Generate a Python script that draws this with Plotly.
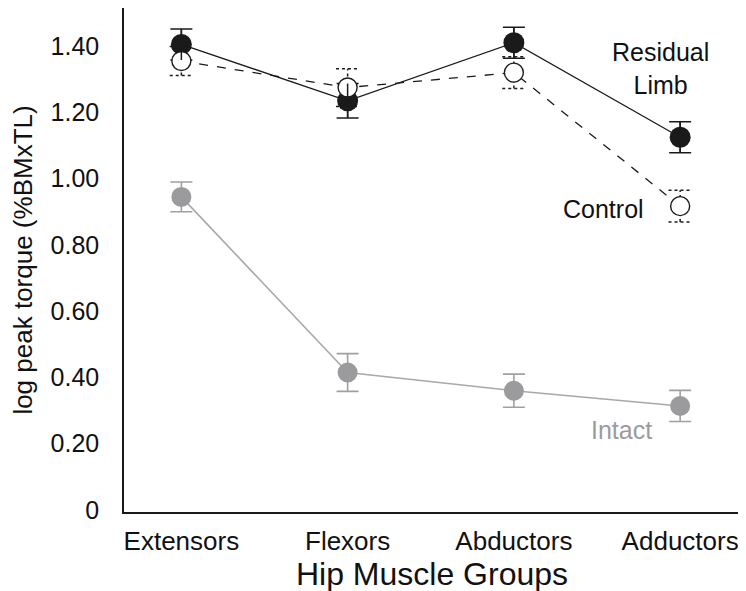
import plotly.graph_objects as go

categories = ["Extensors", "Flexors", "Abductors", "Adductors"]
residual = [1.405, 1.235, 1.41, 1.125]
residual_err = [0.047, 0.052, 0.047, 0.047]
control = [1.355, 1.275, 1.32, 0.917]
control_err = [0.044, 0.057, 0.048, 0.048]
intact = [0.945, 0.415, 0.36, 0.314]
intact_err = [0.045, 0.057, 0.05, 0.047]
ytick_vals = [0, 0.2, 0.4, 0.6, 0.8, 1.0, 1.2, 1.4]
ytick_text = ["0", "0.20", "0.40", "0.60", "0.80", "1.00", "1.20", "1.40"]

xs = list(range(len(categories)))
FONT = "Liberation Sans, Arial, Helvetica, sans-serif"
GRAY = "#9b9b9d"
BLACK = "#1a1a1a"
cap = 0.07  # half cap width in category units

fig = go.Figure()

# Intact
fig.add_trace(go.Scatter(
    x=xs, y=intact, mode="lines+markers",
    line=dict(color="#a8a8aa", width=1.6),
    marker=dict(size=20, color=GRAY, line=dict(width=0)),
    error_y=dict(type="data", array=intact_err, color="#a0a0a2", thickness=1.6, width=11),
    showlegend=False, hoverinfo="skip"))

# Residual limb
fig.add_trace(go.Scatter(
    x=xs, y=residual, mode="lines+markers",
    line=dict(color=BLACK, width=1.3),
    marker=dict(size=21, color=BLACK, line=dict(width=0)),
    error_y=dict(type="data", array=residual_err, color=BLACK, thickness=1.5, width=11),
    showlegend=False, hoverinfo="skip"))

# Control error bars (dotted), beneath control markers
ex, ey = [], []
for x, v, e in zip(xs, control, control_err):
    ex += [x - cap, x + cap, None, x - cap, x + cap, None, x, x, None]
    ey += [v + e, v + e, None, v - e, v - e, None, v - e, v + e, None]
fig.add_trace(go.Scatter(
    x=ex, y=ey, mode="lines",
    line=dict(color=BLACK, width=1.5, dash="dot"),
    showlegend=False, hoverinfo="skip"))

# Control line + markers
fig.add_trace(go.Scatter(
    x=xs, y=control, mode="lines+markers",
    line=dict(color=BLACK, width=1.3, dash="dash"),
    marker=dict(size=19, color="white", line=dict(width=1.4, color=BLACK)),
    showlegend=False, hoverinfo="skip"))

# Residual error bar stems on top
rx, ry = [], []
for x, v, e in zip(xs, residual, residual_err):
    rx += [x, x, None]
    ry += [v - e, v + e, None]
fig.add_trace(go.Scatter(
    x=rx, y=ry, mode="lines", line=dict(color=BLACK, width=1.5),
    showlegend=False, hoverinfo="skip"))

fig.add_annotation(x=2.88, y=1.333, text="Residual<br>Limb", showarrow=False,
                   font=dict(family=FONT, size=25, color="#111"), xanchor="center",
                   yanchor="middle", align="center")
fig.add_annotation(x=2.54, y=0.907, text="Control", showarrow=False,
                   font=dict(family=FONT, size=25, color="#111"), xanchor="center",
                   yanchor="middle")
fig.add_annotation(x=2.645, y=0.242, text="Intact", showarrow=False,
                   font=dict(family=FONT, size=25, color=GRAY), xanchor="center",
                   yanchor="middle")

fig.update_layout(
    width=746, height=591,
    margin=dict(l=116, r=14, t=0, b=87),
    plot_bgcolor="white", paper_bgcolor="white",
    font=dict(family=FONT, size=25, color="#111"),
    xaxis=dict(range=[-0.345, 3.36], tickvals=xs, ticktext=categories,
               showgrid=False, zeroline=False, showline=True, linecolor=BLACK,
               linewidth=1.5, ticks="", tickfont=dict(size=26), automargin=False,
               ticklabelstandoff=5,
               title=dict(text="Hip Muscle Groups", font=dict(size=32), standoff=4)),
    yaxis=dict(range=[-0.006, 1.515], tickvals=ytick_vals, ticktext=ytick_text,
               showgrid=False, zeroline=False, showline=True, linecolor=BLACK,
               linewidth=1.5, ticks="", tickfont=dict(size=25), automargin=False,
               ticklabelstandoff=18,
               title=dict(text="log peak torque (%BMxTL)", font=dict(size=26), standoff=14)),
)

fig.write_html("out.html")
